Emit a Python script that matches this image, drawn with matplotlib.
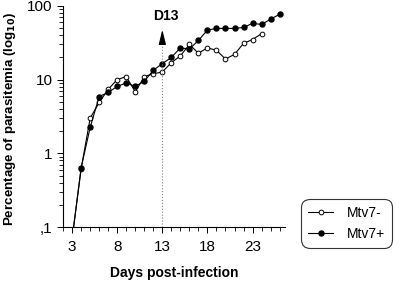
import numpy as np
import matplotlib
matplotlib.use('Agg')
import matplotlib.pyplot as plt
from matplotlib.ticker import FixedLocator, MultipleLocator, NullFormatter

plt.rcParams['font.family'] = ['Liberation Sans', 'DejaVu Sans']

# Days post-infection for each group
days_neg = list(range(3, 25))
days_pos = list(range(3, 27))

# Percentage of parasitemia
mtv7_neg = [0.07, 0.62, 3.0, 4.9, 7.4, 10, 11, 6.8, 11, 12, 12.7, 17, 21, 30,
            22.8, 27, 25, 19, 22, 31, 35, 42]
mtv7_pos = [0.07, 0.64, 2.25, 5.9, 6.7, 8.1, 9.0, 8.1, 9.5, 13.4, 16.5, 20, 27,
            26, 34, 47, 49.5, 49.5, 49.5, 51, 58, 56, 66, 77]

xticks = [3, 8, 13, 18, 23]
yticks = [0.1, 1, 10, 100]
ytick_labels = [',1', '1', '10', '100']

marker_day = 13
marker_label = 'D13'

fig = plt.figure(figsize=(4.02, 2.81), dpi=100)
ax = fig.add_axes([0.157, 0.192, 0.552, 0.787])

ax.plot(days_neg, mtv7_neg, color='black', lw=0.8, marker='o', ms=3.4,
        mfc='white', mec='black', mew=0.7, label='Mtv7-')
ax.plot(days_pos, mtv7_pos, color='black', lw=0.8, marker='o', ms=3.6,
        mfc='black', mec='black', label='Mtv7+')

ax.set_yscale('log')
ax.set_ylim(0.1, 100)
ax.set_xlim(2, 26.6)

# Dotted line and arrow at day 13
ax.plot([marker_day, marker_day], [0.1, 36], color='gray', lw=0.8, ls=':')
ax.annotate('', xy=(marker_day, 52), xytext=(marker_day, 35),
            arrowprops=dict(arrowstyle='-|>,head_width=0.22,head_length=0.9',
                            color='black', lw=0.8))
ax.text(marker_day + 0.4, 72, marker_label, ha='center', va='center',
        fontsize=10, fontweight='bold')

# Axes and ticks
for side in ['top', 'right']:
    ax.spines[side].set_visible(False)
ax.spines['left'].set_linewidth(0.8)
ax.spines['bottom'].set_linewidth(0.8)

ax.xaxis.set_major_locator(FixedLocator(xticks))
ax.xaxis.set_minor_locator(MultipleLocator(1))
ax.set_yticks(yticks)
ax.set_yticklabels(ytick_labels)
ax.yaxis.set_minor_formatter(NullFormatter())
ax.tick_params(which='major', direction='out', length=4, width=0.7,
               labelsize=11)
ax.tick_params(axis='x', which='major', pad=5)
ax.tick_params(which='minor', direction='out', length=3, width=0.6)

ax.set_xlabel('Days post-infection', fontsize=10, fontweight='bold',
              labelpad=9)
ax.set_ylabel('Percentage of parasitemia (log$_{\\mathbf{10}}$)', fontsize=9.6,
              fontweight='bold')
ax.yaxis.set_label_coords(-0.205, 0.49)

leg = fig.legend(loc='center', fontsize=10, frameon=True,
                 fancybox=True, edgecolor='black', handlelength=1.8,
                 borderpad=0.5, labelspacing=0.5, handletextpad=1.0)
leg.set_bbox_to_anchor((0.863, 0.205), transform=fig.transFigure)
leg.get_frame().set_linewidth(0.8)
leg.get_frame().set_boxstyle('round,pad=0,rounding_size=0.6')

fig.savefig('out.png', dpi=100)
